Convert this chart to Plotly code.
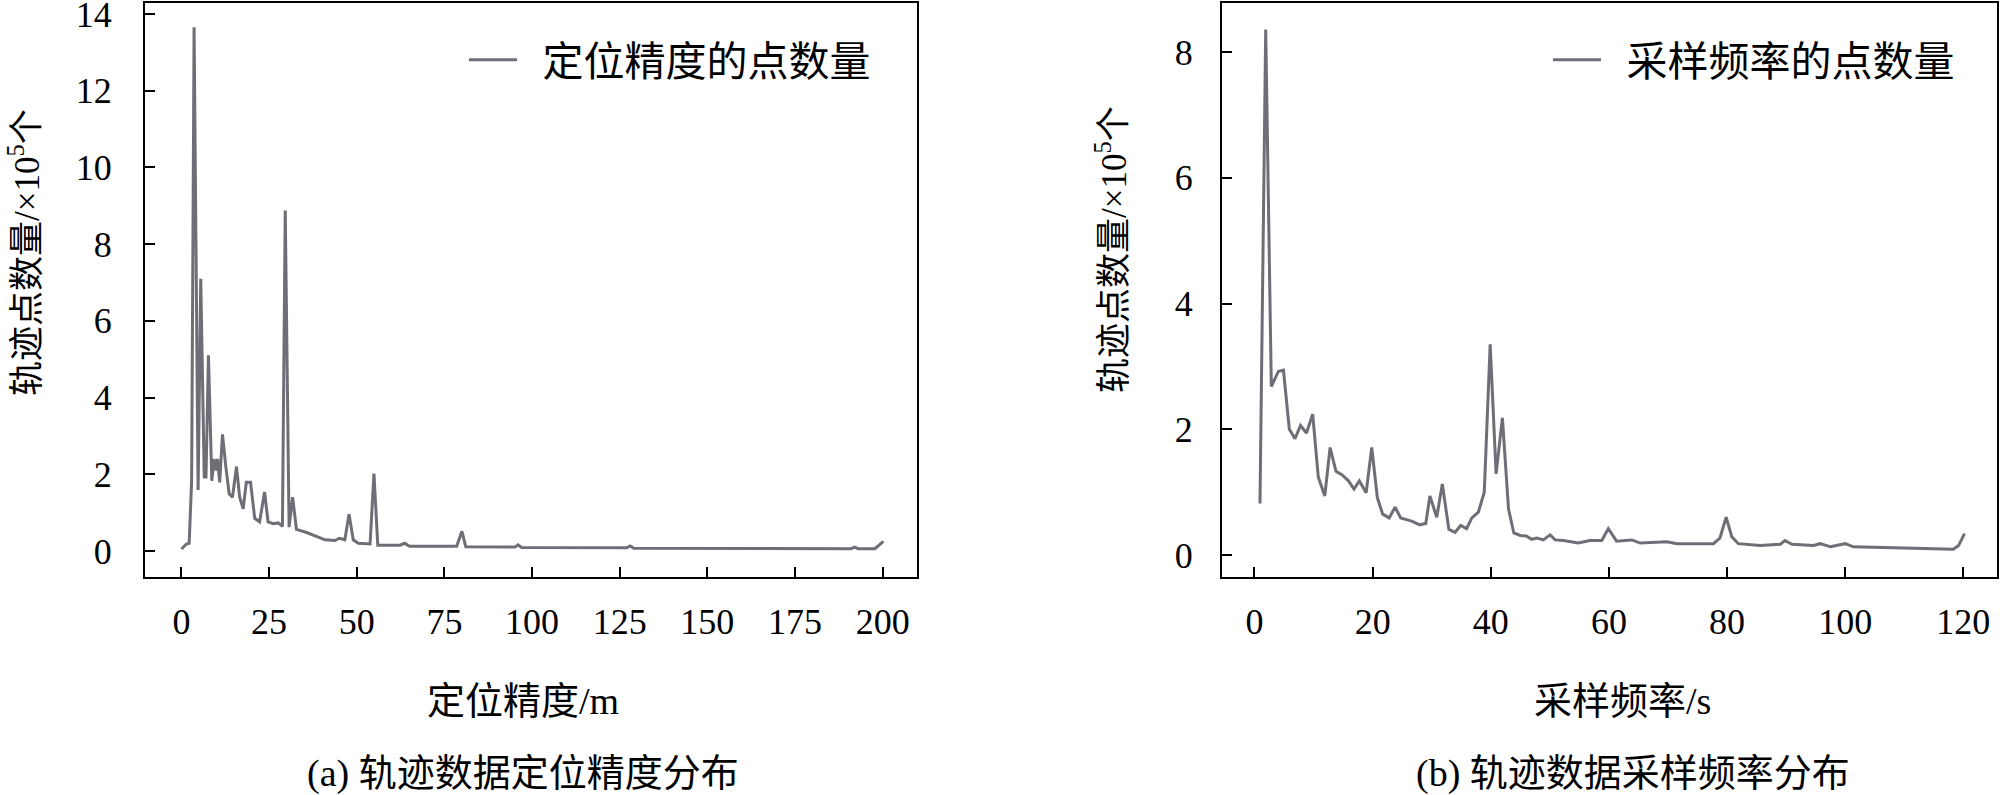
import plotly.graph_objects as go

# ---- data (a): positioning accuracy ----
acc_x = [0, 1.4, 2.2, 2.9, 3.6, 4.75, 5.5, 6.5, 7.0, 7.7, 8.65, 9.3, 9.8, 10.3, 10.9, 11.7,
         12.65, 13.6, 14.55, 15.7, 16.6, 17.6, 18.5, 19.7, 20.9, 22.3, 23.7, 24.7, 26.2, 27.6,
         28.8, 29.6, 30.7, 31.7, 32.8, 35.7, 38.5, 40.9, 43.8, 45.0, 46.6, 47.8, 49.0, 50.4,
         53.8, 54.9, 56.0, 62.3, 63.7, 65.0, 78.5, 80.0, 81.1, 95.1, 96.0, 97.0, 127, 128,
         129, 191, 192, 193, 197.8, 200.2]
acc_y = [0.05, 0.18, 0.2, 1.83, 13.66, 1.59, 7.1, 1.93, 1.93, 5.1, 1.83, 2.4, 2.1, 2.4, 1.79,
         3.04, 2.2, 1.49, 1.4, 2.2, 1.4, 1.1, 1.79, 1.79, 0.85, 0.76, 1.54, 0.76, 0.71, 0.73,
         0.64, 8.88, 0.62, 1.4, 0.56, 0.48, 0.38, 0.29, 0.27, 0.33, 0.29, 0.96, 0.29, 0.2,
         0.18, 2.02, 0.15, 0.15, 0.2, 0.12, 0.12, 0.51, 0.11, 0.1, 0.16, 0.09, 0.08, 0.13,
         0.07, 0.06, 0.1, 0.06, 0.06, 0.25]

# ---- data (b): sampling interval ----
freq_x = [0.93, 1.9, 2.85, 4.04, 4.9, 5.9, 6.86, 7.8, 8.8, 9.85, 10.8, 11.9, 12.8, 13.8, 14.9,
          15.9, 16.85, 17.75, 18.9, 19.85, 20.8, 21.7, 22.8, 23.8, 24.75, 26.6, 28, 29, 29.7,
          30.85, 31.8, 32.9, 33.95, 34.9, 35.9, 36.8, 37.9, 38.9, 39.9, 40.9, 41.97, 43, 43.9,
          45, 46.1, 46.9, 47.8, 48.9, 50.04, 50.9, 52.3, 54.8, 56.8, 58.8, 59.9, 61.3, 63.9,
          65.3, 69.8, 71.5, 77.7, 78.8, 79.85, 80.8, 81.9, 85.6, 89, 89.8, 91, 94.6, 95.8,
          97.5, 100, 101.4, 106.5, 112.1, 118.3, 119.2, 120.2]
freq_y = [0.82, 8.36, 2.68, 2.92, 2.94, 2.0, 1.85, 2.06, 1.94, 2.24, 1.24, 0.94, 1.71, 1.33,
          1.27, 1.18, 1.05, 1.18, 0.99, 1.71, 0.91, 0.65, 0.59, 0.76, 0.59, 0.54, 0.48, 0.5,
          0.94, 0.6, 1.13, 0.41, 0.36, 0.47, 0.42, 0.59, 0.68, 1.0, 3.35, 1.29, 2.18, 0.735,
          0.35, 0.31, 0.3, 0.25, 0.27, 0.24, 0.32, 0.24, 0.23, 0.19, 0.23, 0.23, 0.42, 0.22,
          0.24, 0.19, 0.21, 0.18, 0.18, 0.27, 0.6, 0.29, 0.18, 0.15, 0.17, 0.23, 0.17, 0.15,
          0.18, 0.13, 0.18, 0.13, 0.12, 0.11, 0.09, 0.15, 0.34]

acc_ticks = [0, 25, 50, 75, 100, 125, 150, 175, 200]
acc_yticks = [0, 2, 4, 6, 8, 10, 12, 14]
freq_ticks = [0, 20, 40, 60, 80, 100, 120]
freq_yticks = [0, 2, 4, 6, 8]

name_a = "定位精度的点数量"
name_b = "采样频率的点数量"
xtitle_a = "定位精度/m"
xtitle_b = "采样频率/s"
ytitle = "轨迹点数量/×10<sup>5</sup>个"
cap_a = "(a) 轨迹数据定位精度分布"
cap_b = "(b) 轨迹数据采样频率分布"

W, H = 2000, 795
FONT = "Liberation Serif, 'Times New Roman', 'Noto Sans CJK SC', serif"
LINE_COLOR = "rgb(110,110,118)"
GAP = "\u2002"  # small visual gap between legend line and label

fig = go.Figure()
fig.add_trace(go.Scatter(x=acc_x, y=acc_y, mode="lines", name=GAP + name_a,
                         line=dict(color=LINE_COLOR, width=3), xaxis="x", yaxis="y",
                         legend="legend"))
fig.add_trace(go.Scatter(x=freq_x, y=freq_y, mode="lines", name=GAP + name_b,
                         line=dict(color=LINE_COLOR, width=3), xaxis="x2", yaxis="y2",
                         legend="legend2"))

ydom = [1 - 577 / H, 1 - 3 / H]
axis_common = dict(showline=True, linecolor="black", linewidth=2, mirror=True,
                   ticks="inside", ticklen=10, tickwidth=2, tickcolor="black",
                   showgrid=False, zeroline=False, automargin=False,
                   ticklabeloverflow="allow",
                   tickfont=dict(family=FONT, size=36, color="black"))

fig.update_layout(
    template="none",
    width=W, height=H,
    margin=dict(l=0, r=0, t=0, b=0, pad=0),
    paper_bgcolor="white", plot_bgcolor="white",
    font=dict(family=FONT, color="black"),
    xaxis=dict(domain=[145 / W, 917 / W], range=[-10.4, 209.8], tickvals=acc_ticks,
               anchor="y", ticklabelstandoff=12, **axis_common),
    yaxis=dict(domain=ydom, range=[-0.68, 14.29], tickvals=acc_yticks,
               anchor="x", ticklabelstandoff=24, **axis_common),
    xaxis2=dict(domain=[1222 / W, 1997 / W], range=[-5.5, 125.7], tickvals=freq_ticks,
                anchor="y2", ticklabelstandoff=12, **axis_common),
    yaxis2=dict(domain=ydom, range=[-0.35, 8.78], tickvals=freq_yticks,
                anchor="x2", ticklabelstandoff=20, **axis_common),
    legend=dict(x=464 / W, y=1 - 60 / H, xanchor="left", yanchor="middle",
                itemwidth=48,
                font=dict(family=FONT, size=41, color="black"),
                bgcolor="rgba(0,0,0,0)", borderwidth=0),
    legend2=dict(x=1548 / W, y=1 - 60 / H, xanchor="left", yanchor="middle",
                 itemwidth=48,
                 font=dict(family=FONT, size=41, color="black"),
                 bgcolor="rgba(0,0,0,0)", borderwidth=0),
    showlegend=True,
)

ann_font = dict(family=FONT, size=38, color="black")
yt_font = dict(family=FONT, size=35, color="black")
anns = [
    dict(text=xtitle_a, x=523 / W, y=1 - 701 / H, font=ann_font),
    dict(text=xtitle_b, x=1622 / W, y=1 - 701 / H, font=ann_font),
    dict(text=cap_a, x=523 / W, y=1 - 773 / H, font=ann_font),
    dict(text=cap_b, x=1633 / W, y=1 - 773 / H, font=ann_font),
    dict(text=ytitle, x=25 / W, y=1 - 253 / H, textangle=-90, font=yt_font),
    dict(text=ytitle, x=1112 / W, y=1 - 250 / H, textangle=-90, font=yt_font),
]
for a in anns:
    fig.add_annotation(xref="paper", yref="paper", showarrow=False,
                       xanchor="center", yanchor="middle", **a)

fig.write_html("out.html", config={"displayModeBar": False},
               post_script="document.body.style.margin='0';")
